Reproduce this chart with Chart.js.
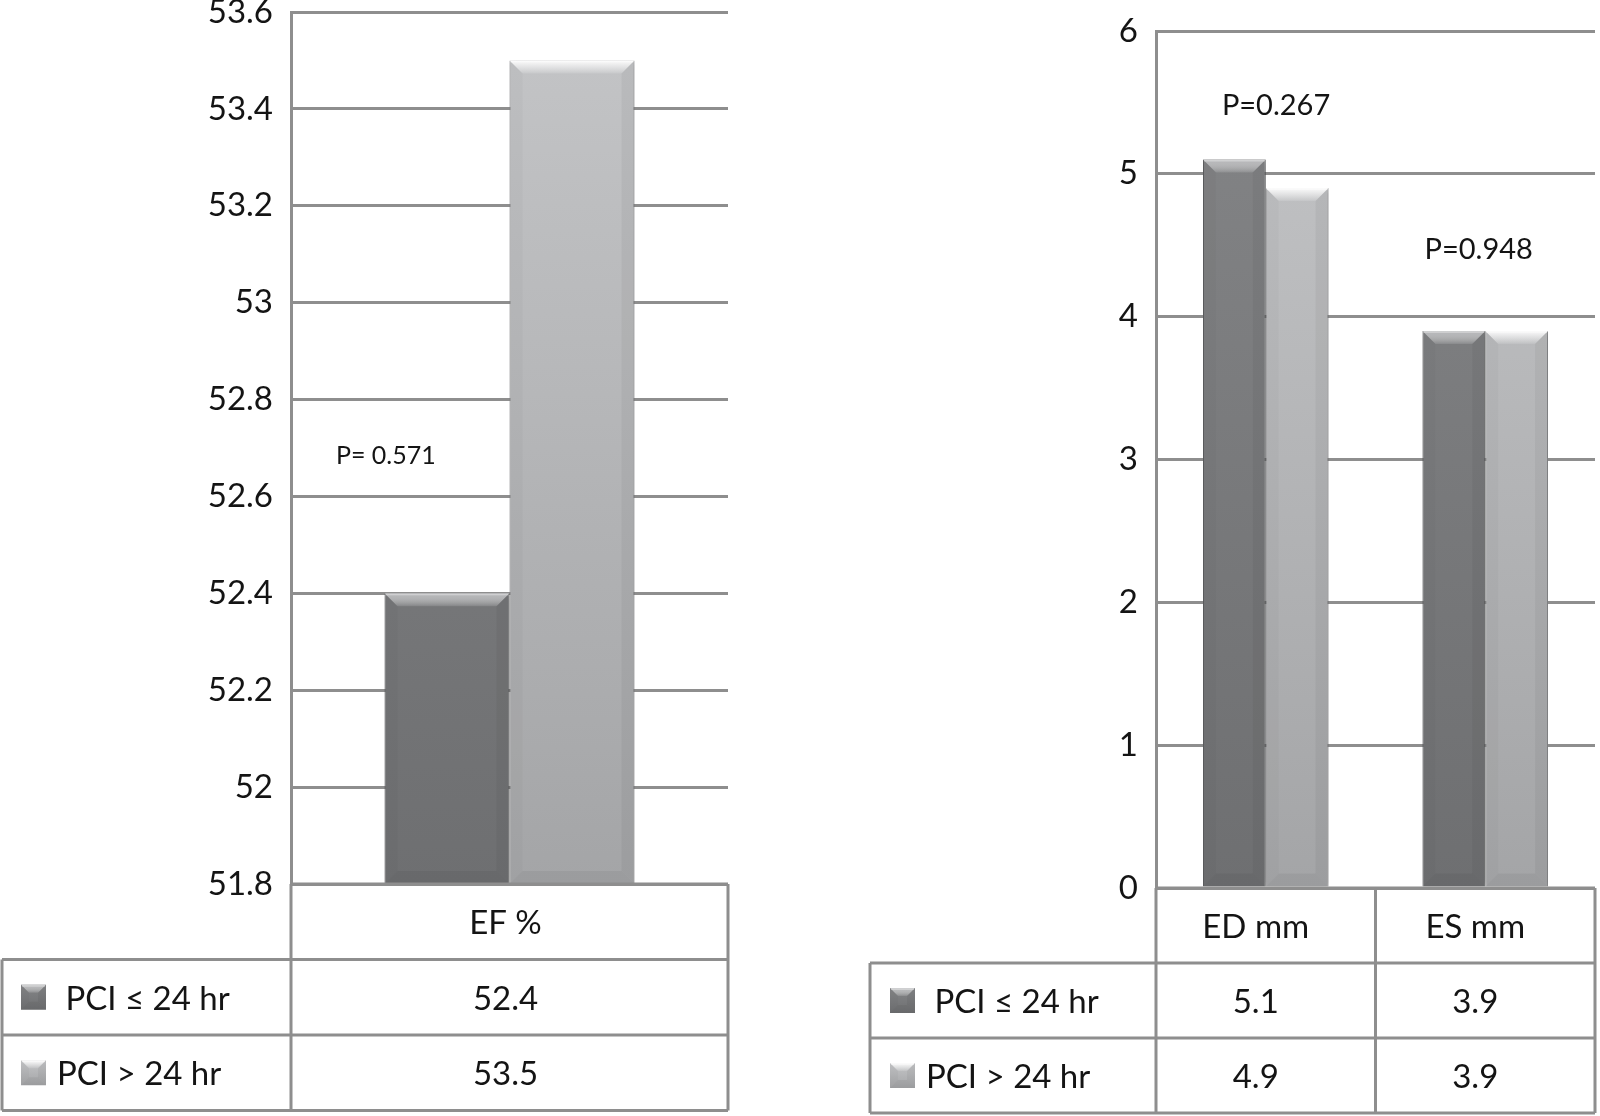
<!DOCTYPE html>
<html>
<head>
<meta charset="utf-8">
<script src="https://cdn.jsdelivr.net/npm/chart.js@4.4.1/dist/chart.umd.min.js"></script>
<style>
  html, body { margin: 0; padding: 0; background: #fff; width: 1600px; height: 1116px; overflow: hidden; position: relative; }
  canvas { position: absolute; left: 0; top: -40px; }
</style>
</head>
<body>
<canvas id="efChart" width="1600" height="1156"></canvas>
<canvas id="dimChart" width="1600" height="1156"></canvas>
<script>
// Data
const seriesNames = [' PCI \u2264 24 hr', 'PCI > 24 hr'];

const efCategories = ['EF %'];
const efEarly = [52.4];
const efLate = [53.5];
const efTicks = [51.8, 52, 52.2, 52.4, 52.6, 52.8, 53, 53.2, 53.4, 53.6];
const efPValues = ['P= 0.571'];

const dimCategories = ['ED mm', 'ES mm'];
const dimEarly = [5.1, 3.9];
const dimLate = [4.9, 3.9];
const dimTicks = [0, 1, 2, 3, 4, 5, 6];
const dimPValues = ['P=0.267', 'P=0.948'];

const FONT = 'Lato, "Open Sans", sans-serif';
const TEXT = '#141414';
const LINE = '#8e8e8e';

function vGrad(top, bottom) {
    return ctx => {
        const area = ctx.chart.chartArea;
        if (!area) return bottom;
        const g = ctx.chart.ctx.createLinearGradient(0, area.top, 0, area.bottom);
        g.addColorStop(0, top);
        g.addColorStop(1, bottom);
        return g;
    };
}

function poly(c, pts, fill) {
    c.beginPath();
    c.moveTo(pts[0][0], pts[0][1]);
    for (let i = 1; i < pts.length; i++) c.lineTo(pts[i][0], pts[i][1]);
    c.closePath();
    c.fillStyle = fill;
    c.fill();
}

// bevel look of the office-style bars
function bevel(c, l, r, y, base, b, hl) {
    const g = c.createLinearGradient(0, y, 0, y + b);
    g.addColorStop(0, hl);
    g.addColorStop(1, 'rgba(255,255,255,0.1)');
    poly(c, [[l, y], [r, y], [r - b, y + b], [l + b, y + b]], g);
    poly(c, [[l, y], [l + b, y + b], [l + b, base - b], [l, base]], 'rgba(0,0,0,0.025)');
    poly(c, [[r, y], [r - b, y + b], [r - b, base - b], [r, base]], 'rgba(0,0,0,0.045)');
    poly(c, [[l, base], [l + b, base - b], [r - b, base - b], [r, base]], 'rgba(0,0,0,0.05)');
    c.fillStyle = 'rgba(255,255,255,0.35)';
    c.fillRect(l + 1, y, r - l - 2, 2);
}

const palette = [
    { top: '#848587', bottom: '#6e6f71', hl: '#b4b5b7' },
    { top: '#c4c5c7', bottom: '#a4a5a7', hl: '#fbfbfb' }
];

const bevelPlugin = {
    id: 'bevel',
    beforeDatasetsDraw(chart) {
        const c = chart.ctx;
        c.save();
        c.shadowColor = 'rgba(0,0,0,0.28)';
        c.shadowBlur = 7;
        c.shadowOffsetX = 1;
    },
    afterDatasetsDraw(chart, args, opts) {
        const c = chart.ctx, area = chart.chartArea;
        c.restore();
        c.save();
        c.beginPath();
        c.rect(area.left, area.top - 2, area.right - area.left, area.bottom - area.top + 2);
        c.clip();
        chart.data.datasets.forEach((ds, di) => {
            chart.getDatasetMeta(di).data.forEach(bar => {
                const p = bar.getProps(['x', 'y', 'base', 'width'], true);
                const base = Math.min(p.base, area.bottom);
                bevel(c, p.x - p.width / 2, p.x + p.width / 2, p.y, base, opts.size, palette[di].hl);
            });
        });
        c.restore();
    }
};

const tablePlugin = {
    id: 'dataTable',
    afterDraw(chart, args, opts) {
        const c = chart.ctx, area = chart.chartArea, xs = chart.scales.x;
        const n = chart.data.labels.length;
        const colW = (area.right - area.left) / n;
        const rows = chart.data.datasets.length;
        const h = opts.rowHeight;
        const top = area.bottom;
        const bottom = top + h * (rows + 1);
        c.save();
        c.strokeStyle = LINE;
        c.lineWidth = 3;
        c.beginPath();
        c.moveTo(area.left, top); c.lineTo(area.right, top);
        for (let r = 1; r <= rows + 1; r++) {
            c.moveTo(opts.left, top + r * h); c.lineTo(area.right, top + r * h);
        }
        for (let i = 0; i <= n; i++) {
            const x = area.left + i * colW;
            c.moveTo(x, top); c.lineTo(x, bottom);
        }
        c.moveTo(opts.left, top + h); c.lineTo(opts.left, bottom);
        c.stroke();

        c.fillStyle = TEXT;
        c.font = '33px ' + FONT;
        c.textAlign = 'center';
        c.textBaseline = 'middle';
        chart.data.labels.forEach((lab, i) => c.fillText(lab, xs.getPixelForValue(i) + opts.shift, top + h / 2 + 2));
        chart.data.datasets.forEach((ds, r) => {
            const cy = top + (r + 1.5) * h;
            ds.data.forEach((v, i) => {
                c.fillStyle = TEXT;
                c.textAlign = 'center';
                c.fillText(String(v), xs.getPixelForValue(i) + opts.shift, cy + 2);
            });
            // legend key
            const k = 25, kx = opts.left + opts.keyX, ky = cy - k / 2;
            const g = c.createLinearGradient(0, ky, 0, ky + k);
            g.addColorStop(0, palette[r].top);
            g.addColorStop(1, palette[r].bottom);
            c.fillStyle = g;
            c.fillRect(kx, ky, k, k);
            bevel(c, kx, kx + k, ky, ky + k, 8, palette[r].hl);
            c.fillStyle = TEXT;
            c.textAlign = 'left';
            c.fillText(ds.label, opts.left + opts.textX, cy + 2);
        });
        c.restore();
    }
};

const notesPlugin = {
    id: 'pNotes',
    afterDraw(chart, args, opts) {
        const c = chart.ctx;
        c.save();
        c.fillStyle = TEXT;
        c.textAlign = 'center';
        c.textBaseline = 'middle';
        opts.texts.forEach((t, i) => {
            const pos = opts.at[i];
            c.font = opts.size + 'px ' + FONT;
            c.fillText(t, chart.scales.x.getPixelForValue(pos.x), chart.scales.y.getPixelForValue(pos.y));
        });
        c.restore();
    }
};

function makeChart(id, labels, early, late, ticks, cfg) {
    return new Chart(document.getElementById(id).getContext('2d'), {
        type: 'bar',
        data: {
            labels: labels,
            datasets: [
                {
                    label: seriesNames[0],
                    data: early,
                    backgroundColor: vGrad(palette[0].top, palette[0].bottom),
                    borderColor: '#636466',
                    borderWidth: 1
                },
                {
                    label: seriesNames[1],
                    data: late,
                    backgroundColor: vGrad(palette[1].top, palette[1].bottom),
                    borderColor: '#98999b',
                    borderWidth: 1
                }
            ]
        },
        options: {
            responsive: false,
            animation: false,
            layout: { padding: cfg.padding },
            datasets: { bar: { categoryPercentage: 0.572, barPercentage: 1 } },
            scales: {
                x: { display: false },
                y: {
                    min: ticks[0],
                    max: ticks[ticks.length - 1],
                    afterBuildTicks: scale => { scale.ticks = ticks.map(v => ({ value: v })); },
                    afterFit: scale => { scale.width = cfg.axisWidth; },
                    grid: { color: LINE, lineWidth: 3, drawTicks: false },
                    border: { color: LINE, width: 3 },
                    ticks: {
                        padding: 18,
                        color: TEXT,
                        font: { family: FONT, size: 33 },
                        callback: v => String(Math.round(v * 10) / 10)
                    }
                }
            },
            plugins: {
                legend: { display: false },
                tooltip: { enabled: false },
                bevel: { size: 13 },
                dataTable: cfg.table,
                pNotes: cfg.notes
            }
        },
        plugins: [bevelPlugin, tablePlugin, notesPlugin]
    });
}

makeChart('efChart', efCategories, efEarly, efLate, efTicks, {
    padding: { left: 0, right: 872, top: 52, bottom: 232 },
    axisWidth: 291,
    table: { left: 2, rowHeight: 75.5, keyX: 19, textX: 55, shift: -4 },
    notes: { texts: efPValues, at: [{ x: -0.283, y: 52.683 }], size: 25 }
});

makeChart('dimChart', dimCategories, dimEarly, dimLate, dimTicks, {
    padding: { left: 870, right: 5, top: 71, bottom: 228 },
    axisWidth: 286,
    table: { left: 870, rowHeight: 75, keyX: 20, textX: 56, shift: -10 },
    notes: { texts: dimPValues, at: [{ x: 0.047, y: 5.48 }, { x: 0.97, y: 4.47 }], size: 29 }
});
</script>
</body>
</html>
